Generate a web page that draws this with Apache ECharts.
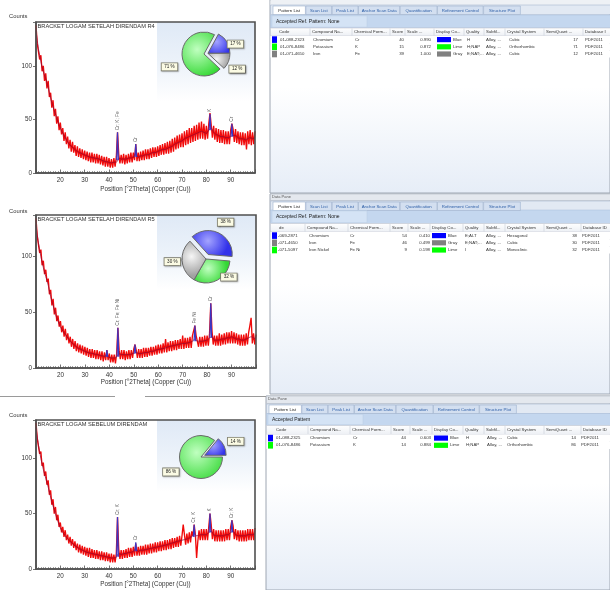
<!DOCTYPE html>
<html><head><meta charset="utf-8">
<script src="https://cdn.jsdelivr.net/npm/echarts@6/dist/echarts.min.js"></script>
<style>html,body{margin:0;padding:0;background:#fff;}#c{width:610px;height:590px;}</style>
</head><body><div id="c"></div>
<script>
const FONT = 'Liberation Sans';
// ---------- spectra (0.5 deg sampling from 10 to 100) ----------
const xStart = 10, xStep = 0.5;
const obsR4 = [
138,121,122,106,110,95,100,86,93,79,
86,71,75,61,68,53,60,46,53,40,
47,36,42,30,38,27,34,23,31,20,
29,19,26,16,25,15,23,14,22,13,
21,12,20,11,19,10,19,10,18,9,
18,9,17,8,16,7,15,6,15,6,
14,5,13,5,14,6,15,38,18,9,
17,9,18,8,17,9,18,10,19,10,
19,12,27,11,19,11,20,12,21,12,
22,13,22,13,23,14,24,15,24,15,
25,16,26,17,27,17,28,18,29,18,
30,19,32,20,33,22,35,23,36,24,
37,24,39,26,40,27,42,28,42,29,
44,30,45,31,47,32,48,32,46,31,
44,32,46,56,45,33,44,31,42,29,
41,28,40,28,40,27,39,27,39,27,
40,46,41,29,41,28,39,27,38,26,
38,26,37,22,39,27,40,26,38,27,
39];
const calcR4 = [133,116,104,95,88,80,70,62,55,48,42,37,33,29,26,24,22,20,19,18,17,16,15,14.5,14,13.5,13,12,11,10.5,10,9.5,10,10,14,13,13,13,14,14,15,17,15,16,16,17,17,18,19,19,20,21,22,22,23,24,25,27,28,29,30,32,33,34,35,36,37,38,39,38,37,40,42,38,36,35,34,34,33,33,34,35,35,33,32,32,31,32,33,32,33];
const peakPosR4 = [43.5, 51, 81.5, 90.5];
const peakTopR4 = [38, 27, 55, 46];
const peakBaseR4 = [12, 15, 40, 34];
const peakLabR4 = ['Cr; K; Fe', 'Cr', 'K', 'Cr'];

const obsR5 = [
134,118,119,103,106,92,96,84,88,77,
80,66,70,56,62,48,54,42,47,37,
42,32,38,28,35,25,31,22,28,19,
26,17,24,15,22,14,21,13,20,12,
19,11,18,10,17,9,17,9,16,8,
16,8,15,7,15,6,14,7,16,7,
13,5,12,5,12,4,13,36,16,8,
16,8,16,7,15,8,16,8,16,9,
17,21,16,9,17,9,17,9,18,10,
18,10,18,11,19,11,19,12,20,12,
21,13,21,13,22,14,26,14,23,15,
24,15,24,16,25,16,25,17,26,17,
29,17,27,18,27,18,28,18,29,30,
38,29,28,19,28,19,28,19,29,20,
29,20,31,58,33,21,29,20,29,20,
31,20,30,21,31,21,32,22,32,22,
33,22,32,22,31,21,30,20,30,20,
30,20,31,21,32,38,45,22,31,21,
30];
const calcR5 = [128,112,100,90,82,74,64,56,48,42,37,33,30,27,24,22,20,18,17,16,15,14,13.5,13,12.5,12,11.5,11,10.5,11,9.5,9,9,10,13,12,12,12,12,12.5,13,14,13,13,13.5,14,14,15,15,16,16.5,17,17.5,18,19,19.5,20,20.5,21,21.5,22,22,22.5,23,24,26,24,24,24,24.5,25,27,28,25,25,25,26,26,27,27,28,27,26,26,25,25,26,27,28,27,26];
const peakPosR5 = [39, 43.5, 50.5, 75, 81.5];
const peakTopR5 = [16, 36, 21, 38, 58];
const peakBaseR5 = [10, 10, 13, 24, 27];
const peakLabR5 = ['', 'Cr; Fe; Fe Ni', '', 'Fe Ni', 'Cr'];

const obsPre = [
132,118,118,104,106,93,96,84,88,76,
80,67,71,58,63,50,56,44,49,38,
42,33,38,29,35,26,31,23,29,21,
27,19,25,17,23,15,22,14,21,13,
20,12,19,11,19,10,18,10,17,9,
17,9,16,8,16,8,15,7,15,7,
14,6,14,6,13,6,14,47,18,9,
17,9,17,10,18,10,19,11,19,11,
20,12,23,12,20,12,21,13,21,13,
22,13,22,14,23,14,23,15,24,15,
24,16,25,16,25,17,26,17,26,18,
27,18,28,19,28,20,29,20,30,21,
30,40,31,22,32,23,33,24,34,30,
40,31,10,25,35,26,36,26,36,26,
36,26,38,50,40,27,36,25,35,25,
35,25,35,25,35,25,36,26,36,26,
38,44,39,27,36,26,35,25,35,25,
35,25,35,25,36,26,36,26,36,26,
37];
const calcPre = [128,112,100,90,82,74,65,57,50,43,37,33,30,27,25,23,21,19.5,18,17,16,15,14.5,14,13.5,13,12.5,12,11.5,11,10.5,10,10,10.5,14,13,14,14,15,15,16,18,16,17,17,17.5,18,18.5,19,19.5,20,20.5,21,21.5,22,23,23.5,24,25,25.5,26,26.5,27,28,29,32,30,30.5,31,31,31,33,34,31,30,30,30,30,31,31,33,34,31,30,30,30,30,31,31,31,32];
const peakPosPre = [43.5, 51, 75, 81.5, 90.5];
const peakTopPre = [47, 24, 40, 50, 44];
const peakBasePre = [11, 16, 29, 33, 33];
const peakLabPre = ['Cr; K', 'Cr', 'Cr; K', 'K', 'Cr; K'];

// ---------- phase fractions (SemiQuant %) ----------
const pieR4Names = ['Potassium', 'Chromium', 'Iron'];
const pieR4Values = [71, 17, 12];
const pieR5Names = ['Chromium', 'Iron Nickel', 'Iron'];
const pieR5Values = [38, 32, 30];
const piePreNames = ['Potassium', 'Chromium'];
const piePreValues = [86, 14];

// ---------- tables ----------
const tabNames = ['Pattern List','Scan List','Peak List','Anchor Scan Data','Quantification','Refinement Control','Structure Plot'];
const headersR4 = ['Code','Compound Na...','Chemical Form...','Score','Scale ...','Display Co...','Quality','Subfil...','Crystal System','SemiQuant ...','Database I'];
const headersR5 = ['de','Compound Na...','Chemical Form...','Score','Scale ...','Display Co...','Quality','Subfil...','Crystal System','SemiQuant ...','Database ID'];
const headersPre = ['Code','Compound Na...','Chemical Form...','Score','Scale ...','Display Co...','Quality','Subfil...','Crystal System','SemiQuant ...','Database ID'];
const rowsR4 = [
 ['01-088-2323','Chromium','Cr','40','0.990','Blue','H','Alloy, ...','Cubic','17','PDF2011'],
 ['01-076-8486','Potassium','K','15','0.872','Lime','H;NAP','Alloy, ...','Orthorhombic','71','PDF2011'],
 ['01-071-4650','Iron','Fe','39','1.000','Gray','E;NAT;...','Alloy, ...','Cubic','12','PDF2011']];
const rowsR5 = [
 ['-069-2871','Chromium','Cr','54','0.410','Blue','E;ALT','Alloy, ...','Hexagonal','38','PDF2011'],
 ['-071-4650','Iron','Fe','46','0.499','Gray','E;NAT;...','Alloy, ...','Cubic','30','PDF2011'],
 ['-071-5097','Iron Nickel','Fe Ni','9','0.198','Lime','I','Alloy, ...','Monoclinic','32','PDF2011']];
const rowsPre = [
 ['01-088-2325','Chromium','Cr','44','0.603','Blue','H','Alloy, ...','Cubic','14','PDF2011'],
 ['01-076-8486','Potassium','K','14','0.884','Lime','H;NAP','Alloy, ...','Orthorhombic','86','PDF2011']];

const colorOf = {Blue:'#0000ff', Lime:'#00ff00', Gray:'#808080'};
const pieCol = {
  Blue:['#a4a4ff','#3232ea'], Lime:['#c0ffc0','#34d834'], Gray:['#f6f6f6','#a2a2a2']
};
const phaseColor = {'Chromium':'Blue','Potassium':'Lime','Iron':'Gray','Iron Nickel':'Lime'};

// ---------- layout ----------
const plots = [
 {left:36, top:22, width:219, height:151, yMax:141, nameGap:13, title:'BRACKET LOGAM SETELAH DIRENDAM R4', countsY:16,
  obs:obsR4, calc:calcR4, pp:peakPosR4, pt:peakTopR4, pb:peakBaseR4, pl:peakLabR4,
  pieNames:pieR4Names, pieValues:pieR4Values, pieC:[204,54], pieR:22, pieStart:317, sel:[false,true,true], explode:4,
  labNudge:[[2,9],[-6,3],[-6,7]], bgBottom:102},
 {left:36, top:215, width:220, height:153, yMax:137, nameGap:11.5, title:'BRACKET LOGAM SETELAH DIRENDAM R5', countsY:211,
  obs:obsR5, calc:calcR5, pp:peakPosR5, pt:peakTopR5, pb:peakBaseR5, pl:peakLabR5,
  pieNames:pieR5Names, pieValues:pieR5Values, pieC:[206,259], pieR:24, pieStart:132, sel:[true,false,false], explode:5,
  labNudge:[[-7,-9],[-2,-5],[5,0]], bgBottom:290},
 {left:36, top:420, width:219, height:149, yMax:134.5, nameGap:12.5, title:'BRACKET LOGAM SEBELUM DIRENDAM', countsY:415,
  obs:obsPre, calc:calcPre, pp:peakPosPre, pt:peakTopPre, pb:peakBasePre, pl:peakLabPre,
  pieNames:piePreNames, pieValues:piePreValues, pieC:[201,457], pieR:21.5, pieStart:360, sel:[false,true], explode:4,
  labNudge:[[4,5],[-3,-4]], bgBottom:492}
];

const panels = [
 {top:0, bottom:193, left:270, strip:false, tabY:5, barY:15, headY:28, rowY:36, bar:'Accepted Ref. Pattern: None',
  headers:headersR4, rows:rowsR4,
  headX:[279,312,354,392,407,436,466,486,507,546,585], cellX:[280,313,355,404,431,437,467,486,509,578,585]},
 {top:194, bottom:394, left:270, strip:true, tabY:201, barY:210, headY:223.5, rowY:232, bar:'Accepted Ref. Pattern: None',
  headers:headersR5, rows:rowsR5,
  headX:[279,307,350,392,410,432,465,486,507,546,583], cellX:[278,309,350,407,430,432,465,486,507,577,582]},
 {top:396, bottom:590, left:266, strip:true, tabY:404, barY:413.5, headY:425.5, rowY:434.5, bar:'Accepted Pattern',
  headers:headersPre, rows:rowsPre,
  headX:[276,310,352,393,412,434,465,486,507,546,583], cellX:[276,310,353,406,431,434,466,487,507,576,581]}
];

// ---------- build ----------
const grids=[], xAxes=[], yAxes=[], series=[], graphics=[];
function txt(x,y,s,o){ o=o||{}; return {type:'text', x:x, y:y, z:o.z||20, silent:true, style:{text:s, fontSize:o.fs||4.3, fontFamily:FONT,
  fill:o.fill||'#222', align:o.align||'left', verticalAlign:o.va||'middle', textAlign:o.align||'left', textVerticalAlign:o.va||'middle', fontWeight:o.fw||'normal'}}; }
function rect(x,y,w,h,fill,stroke,lw,z){ return {type:'rect', z:z||5, silent:true, shape:{x:x,y:y,width:w,height:h}, style:{fill:fill||'none', stroke:stroke||null, lineWidth:lw||0}}; }
function line(x1,y1,x2,y2,stroke,lw,z){ return {type:'line', z:z||6, silent:true, shape:{x1:x1,y1:y1,x2:x2,y2:y2}, style:{stroke:stroke, lineWidth:lw||1}}; }

plots.forEach((p,i)=>{
  grids.push({left:p.left, top:p.top, width:p.width, height:p.height, containLabel:false});
  xAxes.push({type:'value', gridIndex:i, min:10, max:100, interval:10,
    name:'Position [°2Theta] (Copper (Cu))', nameLocation:'middle', nameGap:p.nameGap,
    nameTextStyle:{fontSize:6.3, color:'#333', fontFamily:FONT},
    axisLine:{show:true, lineStyle:{color:'#505050', width:1.5}},
    axisTick:{show:true, inside:true, length:3.5, lineStyle:{color:'#505050', width:0.8}},
    minorTick:{show:true, splitNumber:10, length:2, lineStyle:{color:'#606060', width:0.6}},
    axisLabel:{fontSize:6.3, color:'#333', margin:4, fontFamily:FONT, showMinLabel:false, showMaxLabel:false},
    splitLine:{show:false}});
  yAxes.push({type:'value', gridIndex:i, min:0, max:p.yMax, interval:50,
    axisLine:{show:true, lineStyle:{color:'#505050', width:1.5}},
    axisTick:{show:true, length:3, lineStyle:{color:'#505050', width:0.8}},
    axisLabel:{fontSize:6.3, color:'#333', margin:4, fontFamily:FONT, formatter:v=>(v%50===0?String(v):'')},
    splitLine:{show:false}});
  series.push({type:'line', xAxisIndex:i, yAxisIndex:i, symbol:'none', silent:true, z:2,
    data:p.obs.map((v,k)=>[xStart+k*xStep, v]), lineStyle:{color:'#f00a0a', width:1.35}});
  series.push({type:'line', xAxisIndex:i, yAxisIndex:i, symbol:'none', silent:true, z:3, smooth:0.3,
    data:p.calc.map((v,k)=>[10+k, v]), lineStyle:{color:'#8a0c36', width:1, opacity:0.7}});
  const pk=[];
  p.pp.forEach((x,k)=>{ pk.push([x-0.35,p.pb[k]],[x,p.pt[k]],[x+0.35,p.pb[k]],[x+0.35,'-']); });
  series.push({type:'line', xAxisIndex:i, yAxisIndex:i, symbol:'none', silent:true, z:4, connectNulls:false,
    data:pk, lineStyle:{color:'#3a36c4', width:1.2}});
  const lab=[];
  p.pp.forEach((x,k)=>{ if(p.pl[k]) lab.push([x, p.pt[k], p.pl[k]]); });
  series.push({type:'scatter', xAxisIndex:i, yAxisIndex:i, symbolSize:0.1, silent:true, z:5, data:lab,
    itemStyle:{color:'transparent'},
    label:{show:true, position:'top', distance:2, rotate:90, align:'left', verticalAlign:'middle',
      formatter:q=>q.data[2], fontSize:4.7, color:'#333', fontFamily:FONT}});
  // pie: base part + exploded part (same data, complementary visibility)
  const cx=p.pieC[0], cy=p.pieC[1], r=p.pieR;
  const total=p.pieValues.reduce((a,b)=>a+b,0);
  let acc=0, selFrom=null, selTo=null;
  p.pieValues.forEach((v,k)=>{ const a0=p.pieStart-acc/total*360; acc+=v; const a1=p.pieStart-acc/total*360;
    if(p.sel[k]){ if(selFrom===null) selFrom=a0; selTo=a1; } });
  const mid=(selFrom+selTo)/2*Math.PI/180;
  const off=[p.explode*Math.cos(mid), -p.explode*Math.sin(mid)];
  [false,true].forEach(part=>{
    series.push({type:'pie', center:part?[cx+off[0],cy+off[1]]:[cx,cy], radius:r, startAngle:p.pieStart, clockwise:true,
      avoidLabelOverlap:false, silent:true, z:6,
      label:{show:true, position:'outside', formatter:'{c} %', fontSize:4.6, color:'#222', fontFamily:FONT,
        backgroundColor:'#fbfbe4', borderColor:'#7a7a6a', borderWidth:0.8, padding:[1.2,2.6,1,2.6],
        shadowColor:'rgba(0,0,0,0.3)', shadowBlur:1.5, shadowOffsetX:0.8, shadowOffsetY:0.8},
      labelLine:{show:false, length:2, length2:0},
      labelLayout:q=>({dx:p.labNudge[q.dataIndex][0], dy:p.labNudge[q.dataIndex][1]}),
      emphasis:{disabled:true},
      data:p.pieNames.map((n,k)=>{ const c=pieCol[phaseColor[n]]; const vis=(p.sel[k]===part);
        return {name:n, value:p.pieValues[k],
          label:{show:vis},
          itemStyle: vis ? {borderColor:'#6a6a6a', borderWidth:1,
              color:{type:'radial', x:0.4, y:0.4, r:0.75, colorStops:[{offset:0,color:c[0]},{offset:1,color:c[1]}]}}
            : {color:'rgba(0,0,0,0)', borderWidth:0, borderColor:'rgba(0,0,0,0)'}}; })
    });
  });
  // decorations
  const right=p.left+p.width;
  graphics.push({type:'rect', z:0, silent:true, shape:{x:157, y:p.top, width:right-157, height:p.bgBottom-p.top},
    style:{fill:{type:'linear', x:0, y:0, x2:0, y2:1, colorStops:[{offset:0,color:'#dfe9f6'},{offset:0.55,color:'#edf3fa'},{offset:1,color:'#ffffff'}]}}});
  graphics.push(rect(p.left, p.top, p.width, p.height, 'none', '#505050', 1.6, 30));
  graphics.push(txt(p.left+1.5, p.top+4.5, p.title, {fs:5.7, fill:'#333'}));
  graphics.push(txt(p.left-27, p.countsY, 'Counts', {fs:5.8, fill:'#333'}));
});
// left separators
graphics.push(line(0,396.5,115,396.5,'#9a9a9a',1));
graphics.push(line(145,396.5,266,396.5,'#9a9a9a',1));

// right panels
panels.forEach(P=>{
  const L=P.left, R=610;
  graphics.push({type:'rect', z:1, silent:true, shape:{x:L, y:P.top, width:R-L, height:P.bottom-P.top},
    style:{fill:{type:'linear', x:0,y:0,x2:0,y2:1, colorStops:[{offset:0,color:'#ffffff'},{offset:0.45,color:'#ffffff'},{offset:1,color:'#e6edf7'}]}, stroke:'#9ea6b2', lineWidth:1}});
  if(P.strip){
    graphics.push(rect(L+0.5, P.top, R-L, P.tabY-P.top-0.5, '#e4e8ee', '#b4bac4', 0.6, 2));
    graphics.push(txt(L+2, P.top+2.5, 'Data Pane', {fs:4, fill:'#555'}));
  } else {
    graphics.push(rect(L+0.5, P.top, R-L, P.tabY-P.top, '#eef1f5', null, 0, 2));
  }
  graphics.push(rect(L+0.5, P.tabY, R-L, 9.5, '#e2e9f3', '#a9b9d0', 0.6, 3));
  let tx=L+3;
  tabNames.forEach((t,k)=>{
    const w=t.length*2.2+6;
    graphics.push(rect(tx, P.tabY+1, w, 8.5, k===0?'#ffffff':'#d3dff0', '#9fb1cc', 0.6, 4));
    graphics.push(txt(tx+w/2, P.tabY+5.4, t, {fs:4.3, fill:k===0?'#222':'#2b5da6', align:'center'}));
    tx+=w+0.5;
  });
  graphics.push(rect(L+0.5, P.barY, R-L, P.headY-P.barY, '#c4d7ef', '#a9bdd8', 0.5, 3));
  graphics.push(rect(L+2, P.barY+0.8, 95, P.headY-P.barY-1.6, '#d4e3f5', '#b8cae2', 0.5, 4));
  graphics.push(txt(L+6, (P.barY+P.headY)/2, P.bar, {fs:5, fill:'#1a1a1a'}));
  graphics.push({type:'rect', z:4, silent:true, shape:{x:L+0.5, y:P.headY, width:R-L, height:P.rowY-P.headY},
    style:{fill:{type:'linear', x:0,y:0,x2:0,y2:1, colorStops:[{offset:0,color:'#ffffff'},{offset:1,color:'#eceff4'}]}, stroke:'#c2c8d2', lineWidth:0.6}});
  P.headers.forEach((h,k)=>{
    graphics.push(txt(P.headX[k], (P.headY+P.rowY)/2, h, {fs:4.3, fill:'#333'}));
    if(k>0) graphics.push(line(P.headX[k]-2, P.headY+0.5, P.headX[k]-2, P.rowY-0.5, '#c6ccd6', 0.6, 5));
  });
  const rh=7.2;
  P.rows.forEach((row,ri)=>{
    const y0=P.rowY+ri*rh, yc=y0+rh/2;
    graphics.push(rect(L+0.5, y0, R-L, rh, '#ffffff', null, 0, 4));
    graphics.push(rect(L+2, y0+0.3, 5, rh-0.6, colorOf[row[5]], null, 0, 5));
    row.forEach((v,k)=>{
      if(k===5){
        graphics.push(rect(P.cellX[5], y0+1, 14, rh-2, colorOf[v], null, 0, 5));
        graphics.push(txt(P.cellX[5]+16, yc, v, {fs:4.3, fill:'#333'}));
      } else {
        const ra=(k===3||k===4||k===9);
        graphics.push(txt(P.cellX[k], yc, v, {fs:4.3, fill:'#333', align:ra?'right':'left'}));
      }
    });
  });
});

const chart = echarts.init(document.getElementById('c'), null, {renderer:'canvas'});
chart.setOption({
  animation:false,
  backgroundColor:'#ffffff',
  grid:grids, xAxis:xAxes, yAxis:yAxes, series:series,
  graphic:{elements:graphics}
});
</script></body></html>
